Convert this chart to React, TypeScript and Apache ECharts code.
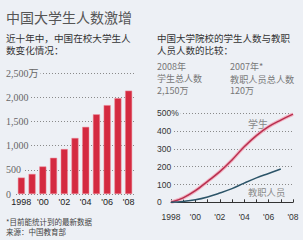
import React, { useEffect, useRef } from "react";
import * as echarts from "echarts";

const years = ["1998", "1999", "2000", "2001", "2002", "2003", "2004", "2005", "2006", "2007", "2008"];
const yearTickLabels = ["1998", "", "'00", "", "'02", "", "'04", "", "'06", "", "'08"];
// 在校大学生人数（万）
const enrollment = [340, 415, 570, 750, 930, 1160, 1390, 1650, 1840, 1985, 2140];
// 增长率（%），以1998年为基准
const studentGrowth = [0, 25, 65, 118, 172, 238, 312, 375, 425, 462, 495];
const staffGrowth = [0, 5, 14, 30, 52, 77, 108, 137, 162, 187];
const leftYTickLabels: Record<number, string> = { 0: "0", 500: "500", 1000: "1,000", 1500: "1,500", 2000: "2,000", 2500: "2,500万" };
const rightYTickLabels: Record<number, string> = { 0: "0", 100: "100", 200: "200", 300: "300", 400: "400", 500: "500%" };

const BG = "#edf0f5";
const CJK = "'Noto Sans CJK SC', sans-serif";

export default function App() {
  const ref = useRef<HTMLDivElement>(null);
  useEffect(() => {
    if (!ref.current) return;
    const chart = echarts.init(ref.current, null, { renderer: "svg" });
    const txt = (text: string, x: number, y: number, size: number, fill: string, family = CJK) => ({
      type: "text",
      x,
      y,
      style: {
        text,
        fill,
        fontSize: size,
        lineHeight: size,
        fontFamily: family,
        verticalAlign: "middle",
        align: "left",
      },
    });
    chart.setOption({
      animation: false,
      backgroundColor: BG,
      grid: [
        { left: 16, right: 169, top: 73.3, bottom: 46 },
        { left: 171, right: 10, top: 113.3, bottom: 37.7 },
      ],
      xAxis: [
        {
          gridIndex: 0,
          type: "category",
          data: years,
          axisLine: { show: false },
          axisTick: { show: false },
          axisLabel: {
            interval: 0,
            margin: 3,
            formatter: (_v: string, i: number) => yearTickLabels[i],
            color: "#222",
            fontSize: 9,
            fontFamily: "Liberation Sans",
          },
        },
        {
          gridIndex: 1,
          type: "category",
          data: years,
          boundaryGap: false,
          axisLine: { show: true, lineStyle: { color: "#333", width: 1 } },
          axisTick: { show: true, inside: true, length: 3, interval: 0, lineStyle: { color: "#333" } },
          axisLabel: {
            interval: 0,
            margin: 10,
            formatter: (_v: string, i: number) => yearTickLabels[i],
            color: "#333",
            fontSize: 8.5,
            fontFamily: "Liberation Sans",
          },
        },
      ],
      yAxis: [
        {
          gridIndex: 0,
          type: "value",
          min: 0,
          max: 2500,
          interval: 500,
          axisLine: { show: false },
          axisTick: { show: false },
          splitLine: { show: true, lineStyle: { type: [1, 2], color: "#8a8a8a", width: 1 } },
          axisLabel: {
            align: "left",
            margin: 10,
            formatter: (v: number) => leftYTickLabels[v] ?? "",
            color: "#666",
            fontSize: 10,
            fontFamily: "'Liberation Serif', 'Noto Sans CJK SC'",
            backgroundColor: BG,
            padding: [0, 2, 0, 0],
          },
        },
        {
          gridIndex: 1,
          type: "value",
          min: 0,
          max: 500,
          interval: 100,
          axisLine: { show: false },
          axisTick: { show: false },
          splitLine: { show: true, lineStyle: { type: [1, 2], color: "#8a8a8a", width: 1 } },
          axisLabel: {
            align: "left",
            margin: 14,
            formatter: (v: number) => rightYTickLabels[v] ?? "",
            color: "#333",
            fontSize: 8.5,
            fontFamily: "Liberation Sans",
            backgroundColor: BG,
            padding: [0, 2, 0, 0],
          },
        },
      ],
      series: [
        {
          type: "bar",
          xAxisIndex: 0,
          yAxisIndex: 0,
          data: enrollment,
          barWidth: 7,
          itemStyle: { color: "#d42a40", borderColor: "#ee8a98", borderWidth: 0.5 },
        },
        {
          type: "line",
          xAxisIndex: 1,
          yAxisIndex: 1,
          data: studentGrowth,
          smooth: 0.4,
          symbol: "none",
          lineStyle: { color: "#f2b3c3", width: 3.5 },
          z: 2,
        },
        {
          type: "line",
          xAxisIndex: 1,
          yAxisIndex: 1,
          data: studentGrowth,
          smooth: 0.4,
          symbol: "none",
          lineStyle: { color: "#b8304f", width: 1.5 },
          z: 3,
        },
        {
          type: "line",
          xAxisIndex: 1,
          yAxisIndex: 1,
          data: staffGrowth,
          smooth: 0.4,
          symbol: "none",
          lineStyle: { color: "#2c5468", width: 1.5 },
          z: 3,
        },
      ],
      graphic: [
        txt("中国大学生人数激增", 6, 17, 14, "#555"),
        txt("近十年中，中国在校大学生人", 6, 37.5, 9.6, "#333"),
        txt("数变化情况：", 6, 50, 9.6, "#333"),
        txt("中国大学院校的学生人数与教职", 157, 37.5, 9.5, "#333"),
        txt("人员人数的比较：", 157, 50, 9.5, "#333"),
        txt("2008年", 157, 66.5, 9, "#777"),
        txt("学生总人数", 157, 78.5, 9, "#777"),
        txt("2,150万", 157, 90.5, 9, "#777"),
        txt("2007年*", 230, 66.5, 9, "#777"),
        txt("教职人员总人数", 230, 78.5, 9.2, "#777"),
        txt("120万", 230, 90.5, 9, "#777"),
        txt("学生", 248, 123.5, 10, "#888"),
        txt("教职人员", 248, 192, 9.3, "#888"),
        txt("*目前能统计到的最新数据", 6, 221.5, 7.5, "#444"),
        txt("来源：中国教育部", 6, 231.5, 7.5, "#444"),
      ],
    });
    return () => chart.dispose();
  }, []);
  return (
    <div
      ref={ref}
      style={{ position: "fixed", left: 0, top: 0, width: 303, height: 240, background: BG }}
    />
  );
}
